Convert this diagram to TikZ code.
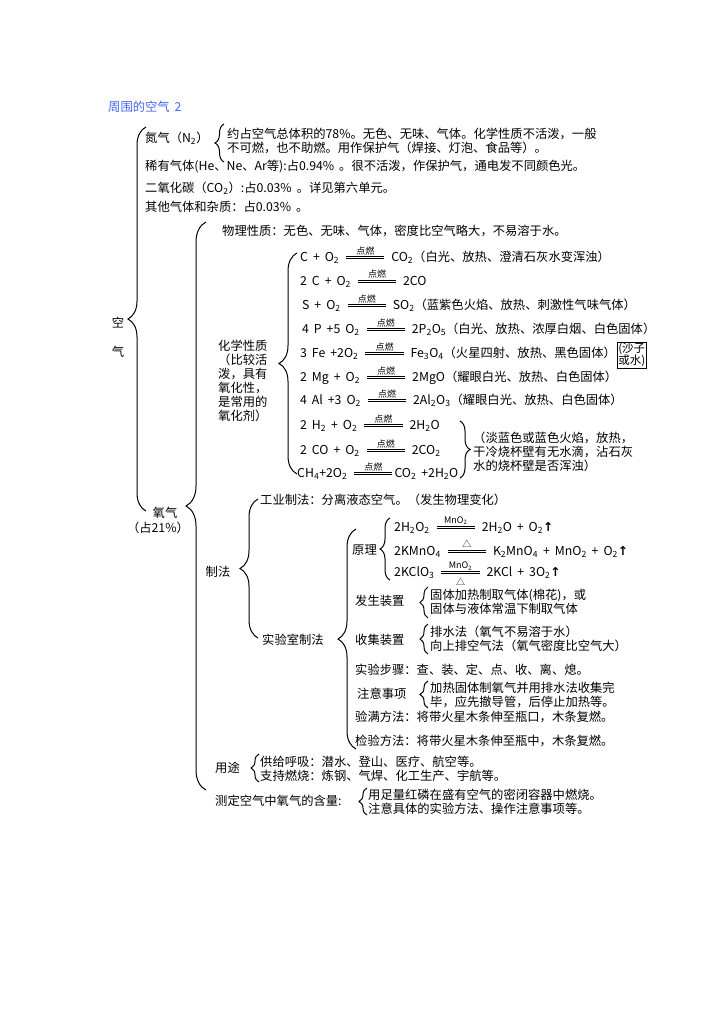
\documentclass[tikz,border=0pt]{standalone}
\usepackage{fontspec}
\setmainfont{Noto Sans CJK SC}[WordSpace=1.8]
\newfontfamily\symb{DejaVu Sans}
\usetikzlibrary{decorations.pathreplacing}
\definecolor{titleblue}{RGB}{70,100,245}
\newcommand{\xb}[1]{\textsubscript{#1}}
\newcommand{\dline}{\raisebox{0.22em}{\vbox{\hrule width 3.1em height 0.6pt\kern1.7pt\hrule width 3.1em height 0.6pt}}}
\newcommand{\eqs}[2]{\,$\mathrel{\mathop{\dline}\limits^{\hbox{\fontsize{9}{9}\selectfont #1}}_{\hbox{\fontsize{9}{9}\selectfont #2}}}$\,}
\newcommand{\up}{{\symb\bfseries ↑}}

\begin{document}
\begin{tikzpicture}[x=1pt,y=-1pt,
    every node/.style={inner sep=0pt, anchor=west, font=\fontsize{12.3}{14}\selectfont},
    lines/.style={align=left},
    lbrace/.style={decorate, decoration={brace, amplitude=#1}, line width=1pt},
    rbrace/.style={decorate, decoration={brace, amplitude=#1}, line width=1pt}]
\useasboundingbox (0,0) rectangle (724,1024);

\node[text=titleblue] (title) at (108,107) {周围的空气 2};

% air
\draw[lbrace=18] (146,511) -- (146,127);
\node[anchor=center] (kong) at (118,323) {空};
\node[anchor=center] (qi) at (118,352) {气};

% nitrogen and other gases
\node (n2) at (145,138) {氮气（N\xb{2}）};
\draw[lbrace=9] (224,162) -- (224,124);
\node[lines] (n2txt) at (227,141) {约占空气总体积的78\%。无色、无味、气体。化学性质不活泼，一般\\不可燃，也不助燃。用作保护气（焊接、灯泡、食品等）。};
\node (rare) at (145,167) {稀有气体(He、Ne、Ar等):占0.94\% 。很不活泼，作保护气，通电发不同颜色光。};
\node (co2) at (145,188) {二氧化碳（CO\xb{2}）:占0.03\% 。详见第六单元。};
\node (other) at (145,207) {其他气体和杂质：占0.03\% 。};

% oxygen
\node[anchor=center] (o2) at (165,513) {氧气};
\node[anchor=center] (o2p) at (158,528) {（占21\%）};
\draw[lbrace=20] (206,790) -- (206,222);

\node (phys) at (222,231) {物理性质：无色、无味、气体，密度比空气略大，不易溶于水。};

% chemical properties
\node[lines] (chem) at (218,381) {化学性质\\（比较活\\泼，具有\\氧化性，\\是常用的\\氧化剂）};
\draw[lbrace=18] (297,474) -- (297,253);
\node (e1) at (300,257) {C + O\xb{2} \eqs{点燃}{} CO\xb{2}（白光、放热、澄清石灰水变浑浊）};
\node (e2) at (300,281) {2 C + O\xb{2} \eqs{点燃}{} 2CO};
\node (e3) at (302,305) {S + O\xb{2} \eqs{点燃}{} SO\xb{2}（蓝紫色火焰、放热、刺激性气味气体）};
\node (e4) at (302,329) {4 P +5 O\xb{2} \eqs{点燃}{} 2P\xb{2}O\xb{5}（白光、放热、浓厚白烟、白色固体）};
\node (e5) at (300,353) {3 Fe +2O\xb{2} \eqs{点燃}{} Fe\xb{3}O\xb{4}（火星四射、放热、黑色固体）};
\node[draw, inner sep=1pt, lines, font=\fontsize{11.5}{12}\selectfont, anchor=north west] (sand) at ([xshift=1pt,yshift=-1pt]e5.north east) {(沙子\\或水)};
\node (e6) at (300,377) {2 Mg + O\xb{2} \eqs{点燃}{} 2MgO（耀眼白光、放热、白色固体）};
\node (e7) at (300,400) {4 Al +3 O\xb{2} \eqs{点燃}{} 2Al\xb{2}O\xb{3}（耀眼白光、放热、白色固体）};
\node (e8) at (300,425) {2 H\xb{2} + O\xb{2} \eqs{点燃}{} 2H\xb{2}O};
\node (e9) at (300,450) {2 CO + O\xb{2} \eqs{点燃}{} 2CO\xb{2}};
\node (e10) at (297,473) {CH\xb{4}+2O\xb{2} \eqs{点燃}{}CO\xb{2} +2H\xb{2}O};
\draw[rbrace=10] (460,421) -- (460,478);
\node[lines] (flame) at (473,452) {（淡蓝色或蓝色火焰，放热，\\干冷烧杯壁有无水滴，沾石灰\\水的烧杯壁是否浑浊）};

% preparation
\node[anchor=center] (zhifa) at (218,572) {制法};
\draw[lbrace=18] (258,638) -- (258,499);
\node (ind) at (260,500) {工业制法：分离液态空气。（发生物理变化）};
\node (lab) at (262,640) {实验室制法};
\draw[lbrace=18] (356,749) -- (356,529);

\node (yuanli) at (352,550) {原理};
\draw[lbrace=10] (390,580) -- (390,518);
\node (r1) at (394,527) {2H\xb{2}O\xb{2} \eqs{MnO\xb{2}}{} 2H\xb{2}O + O\xb{2}\up};
\node (r2) at (394,551) {2KMnO\xb{4} \eqs{△}{} K\xb{2}MnO\xb{4} + MnO\xb{2} + O\xb{2}\up};
\node (r3) at (394,574) {2KClO\xb{3} \eqs{MnO\xb{2}}{△} 2KCl + 3O\xb{2}\up};

\node (fasheng) at (355,601) {发生装置};
\draw[lbrace=8] (428,618) -- (428,587);
\node[lines] (fs) at (430,602) {固体加热制取气体(棉花)，或\\固体与液体常温下制取气体};
\node (shouji) at (355,640) {收集装置};
\draw[lbrace=8] (428,654) -- (428,624);
\node[lines] (sj) at (430,639) {排水法（氧气不易溶于水）\\向上排空气法（氧气密度比空气大）};
\node (steps) at (355,670) {实验步骤：查、装、定、点、收、离、熄。};
\node (zhuyi) at (357,694) {注意事项};
\draw[lbrace=8] (428,708) -- (428,681);
\node[lines] (zy) at (430,695) {加热固体制氧气并用排水法收集完\\毕，应先撤导管，后停止加热等。};
\node (yanman) at (355,717) {验满方法：将带火星木条伸至瓶口，木条复燃。};
\node (jianyan) at (355,741) {检验方法：将带火星木条伸至瓶中，木条复燃。};

% uses and measurement
\node (yongtu) at (215,768) {用途};
\draw[lbrace=8] (259,782) -- (259,754);
\node[lines] (yt) at (260,769) {供给呼吸：潜水、登山、医疗、航空等。\\支持燃烧：炼钢、气焊、化工生产、宇航等。};
\node (ceding) at (215,801) {测定空气中氧气的含量:};
\draw[lbrace=8] (367,815) -- (367,788);
\node[lines] (cd) at (368,802) {用足量红磷在盛有空气的密闭容器中燃烧。\\注意具体的实验方法、操作注意事项等。};
\end{tikzpicture}
\end{document}
